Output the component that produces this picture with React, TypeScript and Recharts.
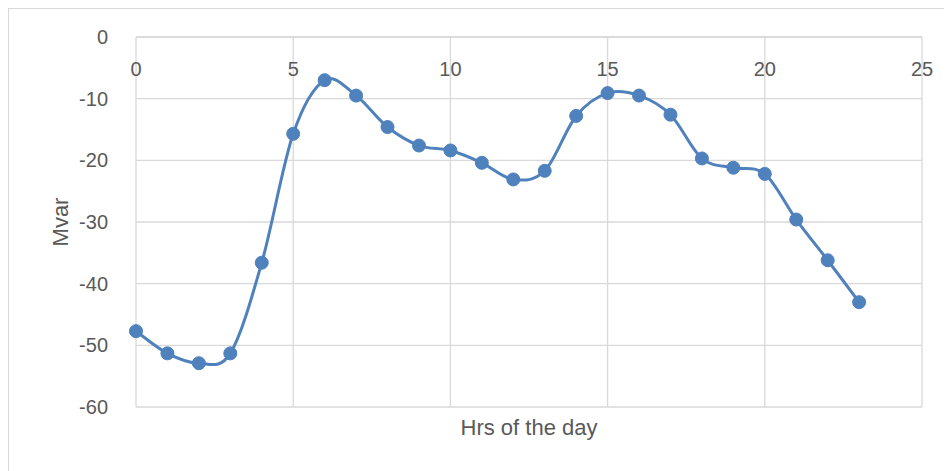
import React from "react";
import { LineChart, Line, XAxis, YAxis, CartesianGrid } from "recharts";

const hours = [0, 1, 2, 3, 4, 5, 6, 7, 8, 9, 10, 11, 12, 13, 14, 15, 16, 17, 18, 19, 20, 21, 22, 23];
const mvar = [
  -47.7, -51.3, -52.9, -51.3, -36.6, -15.7, -7.0, -9.5, -14.6, -17.6, -18.4, -20.4,
  -23.1, -21.7, -12.8, -9.1, -9.5, -12.6, -19.7, -21.2, -22.2, -29.6, -36.2, -43.0,
];
const xTicks = [0, 5, 10, 15, 20, 25];
const yTicks = [-60, -50, -40, -30, -20, -10, 0];

const data = hours.map((h, i) => ({ h, v: mvar[i] }));

const font = "'Liberation Sans', Arial, sans-serif";
const textColor = "#595959";
const blue = "#4f81bd";
const gridColor = "#d9d9d9";

// Excel-like smoothed line (Catmull-Rom / cardinal style bezier)
function smoothCurve(context: any) {
  let pts: [number, number][] = [];
  return {
    areaStart() {},
    areaEnd() {},
    lineStart() {
      pts = [];
    },
    point(x: number, y: number) {
      pts.push([+x, +y]);
    },
    lineEnd() {
      if (!pts.length) return;
      context.moveTo(pts[0][0], pts[0][1]);
      for (let i = 0; i < pts.length - 1; i++) {
        const p0 = pts[i - 1] || pts[i];
        const p1 = pts[i];
        const p2 = pts[i + 1];
        const p3 = pts[i + 2] || p2;
        const k = 1 / 6;
        context.bezierCurveTo(
          p1[0] + (p2[0] - p0[0]) * k,
          p1[1] + (p2[1] - p0[1]) * k,
          p2[0] - (p3[0] - p1[0]) * k,
          p2[1] - (p3[1] - p1[1]) * k,
          p2[0],
          p2[1]
        );
      }
    },
  };
}

const renderXTick = (props: any) => {
  const { x, y, payload } = props;
  return (
    <text x={x} y={Number(y) + 39} textAnchor="middle" fill={textColor} fontSize={20} fontFamily={font}>
      {payload.value}
    </text>
  );
};

export default function App() {
  return (
    <div
      style={{
        position: "relative",
        width: 946,
        height: 470,
        border: `1px solid ${gridColor}`,
        borderBottom: "none",
        boxSizing: "border-box",
        background: "#fff",
      }}
    >
      <LineChart
        width={944}
        height={469}
        data={data}
        margin={{ top: 27, right: 31, left: 0, bottom: 71 }}
      >
        <CartesianGrid stroke={gridColor} strokeWidth={1.3} />
        <XAxis
          dataKey="h"
          type="number"
          orientation="top"
          domain={[0, 25]}
          ticks={xTicks}
          height={1}
          tickSize={0}
          tickMargin={0}
          axisLine={{ stroke: gridColor, strokeWidth: 1.3 }}
          tickLine={false}
          tick={renderXTick}
          interval={0}
        />
        <YAxis
          type="number"
          domain={[-60, 0]}
          ticks={yTicks}
          width={127}
          axisLine={false}
          tickLine={false}
          tickMargin={22}
          interval={0}
          tick={{ fill: textColor, fontSize: 20, fontFamily: font }}
        />
        <Line
          dataKey="v"
          type={smoothCurve as any}
          stroke={blue}
          strokeWidth={3}
          dot={{ r: 6.5, fill: blue, stroke: blue, strokeWidth: 1 }}
          isAnimationActive={false}
        />
      </LineChart>
      <div
        style={{
          position: "absolute",
          left: 52,
          top: 213,
          transform: "translate(-50%, -50%) rotate(-90deg)",
          color: textColor,
          fontFamily: font,
          fontSize: 22,
          whiteSpace: "nowrap",
        }}
      >
        Mvar
      </div>
      <div
        style={{
          position: "absolute",
          left: 520,
          top: 419,
          transform: "translate(-50%, -50%)",
          color: textColor,
          fontFamily: font,
          fontSize: 22,
          whiteSpace: "nowrap",
        }}
      >
        Hrs of the day
      </div>
    </div>
  );
}
